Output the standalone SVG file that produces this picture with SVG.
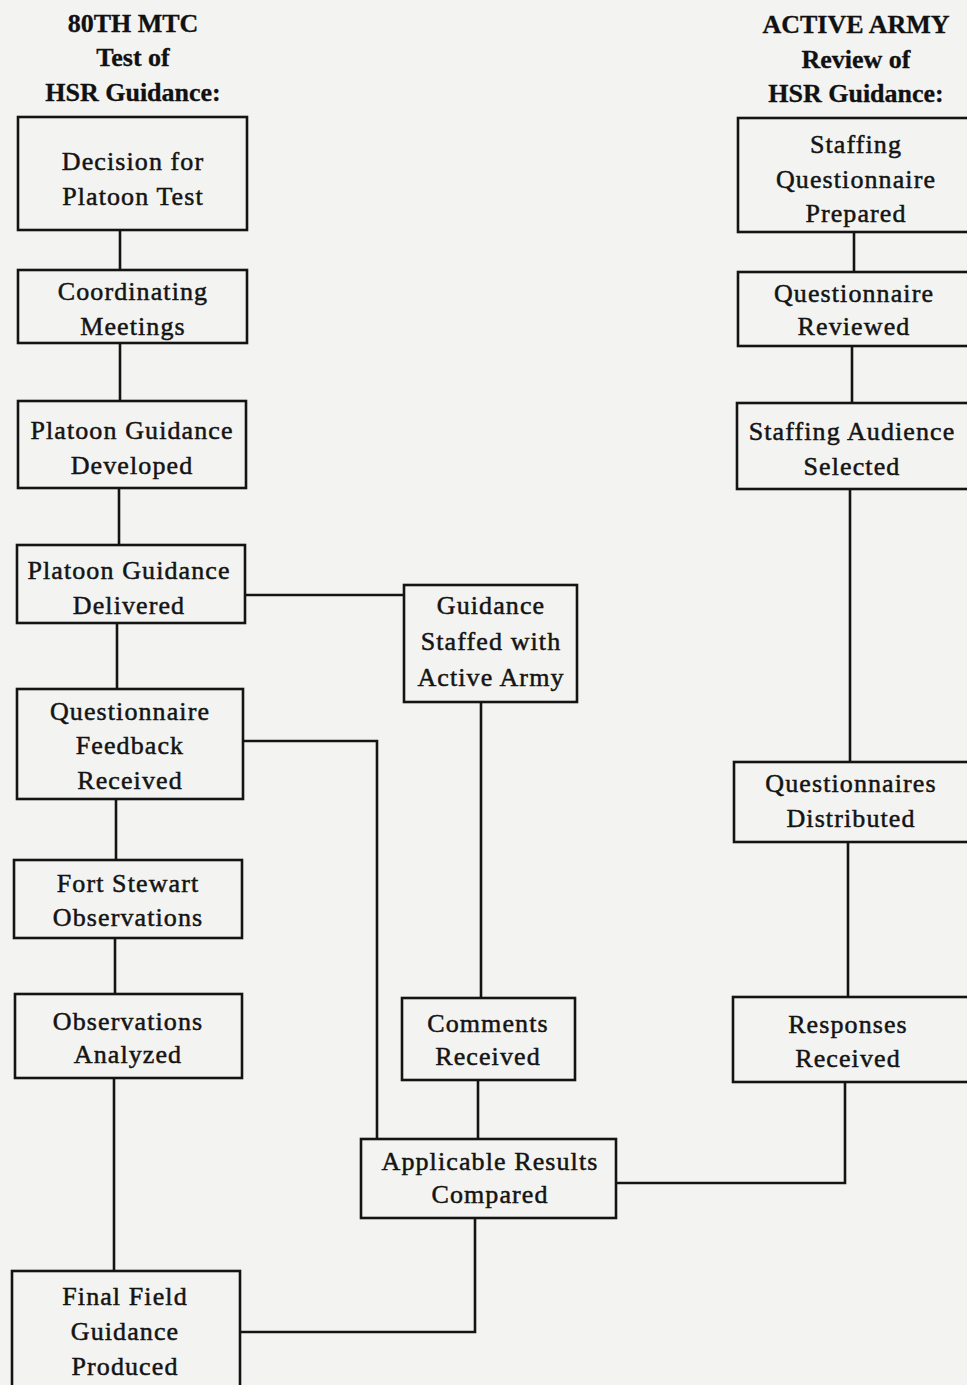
<svg xmlns="http://www.w3.org/2000/svg" width="967" height="1385" viewBox="0 0 967 1385">
<style>
.bg{fill:#f3f3f1}
.box{fill:none;stroke:#141414;stroke-width:2.6}
.wire{fill:none;stroke:#141414;stroke-width:2.6}
.t{font-family:"Liberation Serif","Times New Roman",serif;font-size:26px;letter-spacing:1.1px;fill:#141414;stroke:#141414;stroke-width:0.5;text-anchor:middle}
.h{font-family:"Liberation Serif","Times New Roman",serif;font-size:26px;font-weight:bold;fill:#111;stroke:#111;stroke-width:0.3;text-anchor:middle}
</style>
<rect class="bg" x="0" y="0" width="967" height="1385"/>
<g id="headers">
<text class="h" x="133" y="32">80TH MTC</text>
<text class="h" x="133" y="66">Test of</text>
<text class="h" x="133" y="101">HSR Guidance:</text>
<text class="h" x="856" y="33">ACTIVE ARMY</text>
<text class="h" x="856" y="68">Review of</text>
<text class="h" x="856" y="102">HSR Guidance:</text>
</g>
<g id="connectors">
<path class="wire" d="M120 230V270"/>
<path class="wire" d="M120 343V401"/>
<path class="wire" d="M119 488V545"/>
<path class="wire" d="M117 623V689"/>
<path class="wire" d="M116 799V860"/>
<path class="wire" d="M115 938V994"/>
<path class="wire" d="M114 1078V1271"/>
<path class="wire" d="M245 595H404"/>
<path class="wire" d="M481 702V998"/>
<path class="wire" d="M243 741H377V1139"/>
<path class="wire" d="M478 1080V1139"/>
<path class="wire" d="M475 1218V1332H240"/>
<path class="wire" d="M616 1183H845V1082"/>
<path class="wire" d="M854 232V272"/>
<path class="wire" d="M852 346V403"/>
<path class="wire" d="M850 489V762"/>
<path class="wire" d="M848 842V997"/>
</g>
<g id="n-decision"><rect class="box" x="18" y="117" width="229" height="113"/>
<text class="t" x="133" y="170">Decision for</text><text class="t" x="133" y="205">Platoon Test</text></g>
<g id="n-coordinating"><rect class="box" x="18" y="270" width="229" height="73"/>
<text class="t" x="133" y="300">Coordinating</text><text class="t" x="133" y="335">Meetings</text></g>
<g id="n-developed"><rect class="box" x="18" y="401" width="228" height="87"/>
<text class="t" x="132" y="439">Platoon Guidance</text><text class="t" x="132" y="474">Developed</text></g>
<g id="n-delivered"><rect class="box" x="17" y="545" width="228" height="78"/>
<text class="t" x="129" y="579">Platoon Guidance</text><text class="t" x="129" y="614">Delivered</text></g>
<g id="n-feedback"><rect class="box" x="17" y="689" width="226" height="110"/>
<text class="t" x="130" y="720">Questionnaire</text><text class="t" x="130" y="754">Feedback</text><text class="t" x="130" y="789">Received</text></g>
<g id="n-fortstewart"><rect class="box" x="14" y="860" width="228" height="78"/>
<text class="t" x="128" y="892">Fort Stewart</text><text class="t" x="128" y="926">Observations</text></g>
<g id="n-analyzed"><rect class="box" x="15" y="994" width="227" height="84"/>
<text class="t" x="128" y="1030">Observations</text><text class="t" x="128" y="1063">Analyzed</text></g>
<g id="n-final"><rect class="box" x="12" y="1271" width="228" height="130"/>
<text class="t" x="125" y="1305">Final Field</text><text class="t" x="125" y="1340">Guidance</text><text class="t" x="125" y="1375">Produced</text></g>
<g id="n-staffed"><rect class="box" x="404" y="585" width="173" height="117"/>
<text class="t" x="491" y="614">Guidance</text><text class="t" x="491" y="650">Staffed with</text><text class="t" x="491" y="686">Active Army</text></g>
<g id="n-comments"><rect class="box" x="402" y="998" width="173" height="82"/>
<text class="t" x="488" y="1032">Comments</text><text class="t" x="488" y="1065">Received</text></g>
<g id="n-compared"><rect class="box" x="361" y="1139" width="255" height="79"/>
<text class="t" x="490" y="1170">Applicable Results</text><text class="t" x="490" y="1203">Compared</text></g>
<g id="n-prepared"><rect class="box" x="738" y="118" width="240" height="114"/>
<text class="t" x="856" y="153">Staffing</text><text class="t" x="856" y="188">Questionnaire</text><text class="t" x="856" y="222">Prepared</text></g>
<g id="n-reviewed"><rect class="box" x="738" y="272" width="240" height="74"/>
<text class="t" x="854" y="302">Questionnaire</text><text class="t" x="854" y="335">Reviewed</text></g>
<g id="n-audience"><rect class="box" x="737" y="403" width="241" height="86"/>
<text class="t" x="852" y="440">Staffing Audience</text><text class="t" x="852" y="475">Selected</text></g>
<g id="n-distributed"><rect class="box" x="734" y="762" width="244" height="80"/>
<text class="t" x="851" y="792">Questionnaires</text><text class="t" x="851" y="827">Distributed</text></g>
<g id="n-responses"><rect class="box" x="733" y="997" width="245" height="85"/>
<text class="t" x="848" y="1033">Responses</text><text class="t" x="848" y="1067">Received</text></g>
</svg>
